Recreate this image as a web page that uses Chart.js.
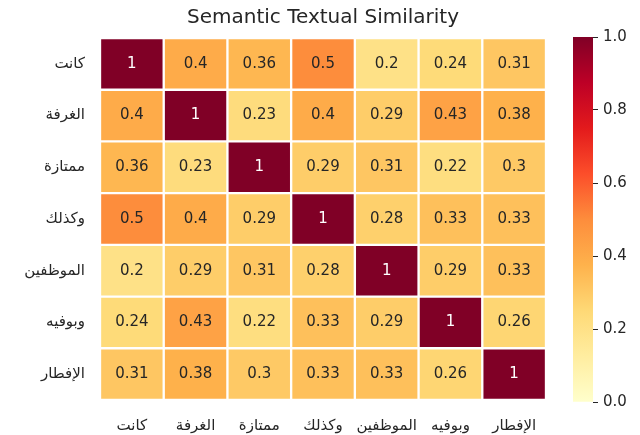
<!DOCTYPE html>
<html>
<head>
<meta charset="utf-8">
<script src="https://cdn.jsdelivr.net/npm/chart.js@4/dist/chart.umd.min.js"></script>
<style>
  html, body { margin: 0; padding: 0; background: #fff; }
  #wrap { position: relative; width: 640px; height: 435px; }
  #heat { position: absolute; left: 0; top: 0; }
  #cbar { position: absolute; left: 560px; top: 0; }
</style>
</head>
<body>
<div id="wrap">
  <canvas id="heat" width="560" height="435"></canvas>
  <canvas id="cbar" width="80" height="435"></canvas>
</div>
<script>
// words (same order on both axes)
const words = ['كانت', 'الغرفة', 'ممتازة', 'وكذلك', 'الموظفين', 'وبوفيه', 'الإفطار'];

// similarity rows
const rowKanat    = [1, 0.4, 0.36, 0.5, 0.2, 0.24, 0.31];
const rowGhurfa   = [0.4, 1, 0.23, 0.4, 0.29, 0.43, 0.38];
const rowMumtaza  = [0.36, 0.23, 1, 0.29, 0.31, 0.22, 0.3];
const rowWakathal = [0.5, 0.4, 0.29, 1, 0.28, 0.33, 0.33];
const rowMuwazaf  = [0.2, 0.29, 0.31, 0.28, 1, 0.29, 0.33];
const rowBufeh    = [0.24, 0.43, 0.22, 0.33, 0.29, 1, 0.26];
const rowIftar    = [0.31, 0.38, 0.3, 0.33, 0.33, 0.26, 1];
const rows = [rowKanat, rowGhurfa, rowMumtaza, rowWakathal, rowMuwazaf, rowBufeh, rowIftar];

const cbTicks = [0, 0.2, 0.4, 0.6, 0.8, 1.0];

// YlOrRd
const ylOrRd = ['#ffffcc', '#ffeda0', '#fed976', '#feb24c', '#fd8d3c', '#fc4e2a', '#e31a1c', '#bd0026', '#800026'];

function hexToRgb(h) {
  return [parseInt(h.slice(1, 3), 16), parseInt(h.slice(3, 5), 16), parseInt(h.slice(5, 7), 16)];
}
function colorFor(v) {
  const t = Math.max(0, Math.min(1, v)) * (ylOrRd.length - 1);
  const i = Math.min(Math.floor(t), ylOrRd.length - 2);
  const f = t - i;
  const a = hexToRgb(ylOrRd[i]), b = hexToRgb(ylOrRd[i + 1]);
  const c = a.map((x, k) => Math.round(x + (b[k] - x) * f));
  return `rgb(${c[0]},${c[1]},${c[2]})`;
}

const FONT = 'DejaVu Sans';
const TXT = '#262626';

// cell annotations
const annotate = {
  id: 'annotate',
  afterDatasetsDraw(chart) {
    const ctx = chart.ctx;
    ctx.save();
    ctx.font = `15px "${FONT}"`;
    ctx.textAlign = 'center';
    ctx.textBaseline = 'middle';
    chart.data.datasets.forEach((ds, r) => {
      chart.getDatasetMeta(r).data.forEach((el, c) => {
        const v = rows[r][c];
        ctx.fillStyle = v > 0.6 ? '#ffffff' : TXT;
        ctx.fillText(String(v), el.x, (el.y + el.base) / 2);
      });
    });
    ctx.restore();
  }
};

new Chart(document.getElementById('heat'), {
  type: 'bar',
  data: {
    labels: words,
    datasets: rows.map((row, r) => ({
      data: row.map(() => [r, r + 1]),
      backgroundColor: row.map(colorFor),
      borderColor: '#ffffff',
      borderWidth: 1.5,
      borderSkipped: false,
      grouped: false,
      barPercentage: 1,
      categoryPercentage: 1
    }))
  },
  options: {
    responsive: false,
    animation: false,
    layout: { padding: { left: 0, right: 14, top: 0, bottom: 0 } },
    plugins: {
      legend: { display: false },
      tooltip: { enabled: false },
      title: {
        display: true,
        text: 'Semantic Textual Similarity',
        fullSize: false,
        color: TXT,
        font: { family: FONT, size: 20, weight: 'normal' },
        padding: { top: 6, bottom: 8 }
      }
    },
    scales: {
      x: {
        grid: { display: false },
        border: { display: false },
        ticks: { color: TXT, font: { family: FONT, size: 15 }, padding: 9, maxRotation: 0 },
        afterFit(s) { s.height = 35; }
      },
      y: {
        min: 0,
        max: 7,
        reverse: true,
        grid: { display: false },
        border: { display: false },
        afterBuildTicks(s) { s.ticks = words.map((w, i) => ({ value: i + 0.5 })); },
        ticks: {
          color: TXT,
          font: { family: FONT, size: 15 },
          padding: 7,
          callback: (v) => words[Math.floor(v)]
        },
        afterFit(s) { s.width = 100; }
      }
    }
  },
  plugins: [annotate]
});

// colour bar
new Chart(document.getElementById('cbar'), {
  type: 'bar',
  data: {
    labels: [''],
    datasets: [{
      data: [[0, 1]],
      backgroundColor(ctx) {
        const area = ctx.chart.chartArea;
        if (!area) return ylOrRd[4];
        const g = ctx.chart.ctx.createLinearGradient(0, area.bottom, 0, area.top);
        ylOrRd.forEach((c, i) => g.addColorStop(i / (ylOrRd.length - 1), c));
        return g;
      },
      borderWidth: 0,
      barPercentage: 1,
      categoryPercentage: 1
    }]
  },
  options: {
    responsive: false,
    animation: false,
    layout: { padding: { left: 13, top: 37, bottom: 33, right: 0 } },
    plugins: { legend: { display: false }, tooltip: { enabled: false } },
    scales: {
      x: { display: false },
      y: {
        position: 'right',
        min: 0,
        max: 1,
        grid: { drawOnChartArea: false, drawTicks: true, tickLength: 5, color: TXT },
        border: { display: false },
        afterBuildTicks(s) { s.ticks = cbTicks.map(v => ({ value: v })); },
        ticks: {
          color: TXT,
          font: { family: FONT, size: 15 },
          padding: 5,
          callback: (v) => v.toFixed(1)
        },
        afterFit(s) { s.width = 47; }
      }
    }
  }
});
</script>
</body>
</html>
